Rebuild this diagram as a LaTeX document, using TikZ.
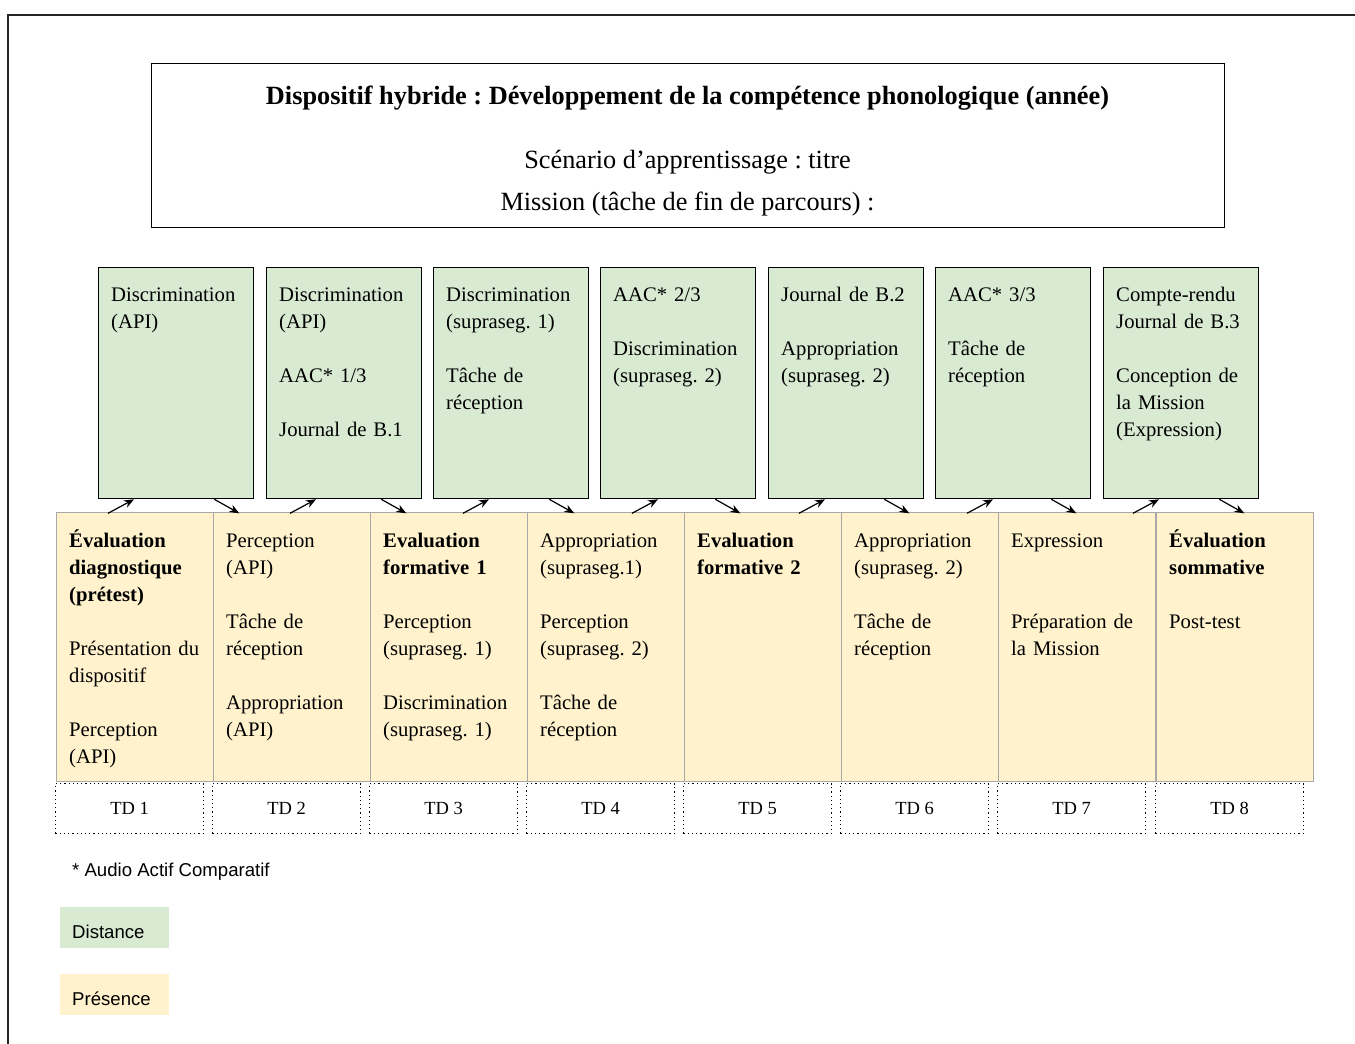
\documentclass[tikz,border=0pt]{standalone}
\usepackage{fontspec}
\setmainfont{Liberation Serif}
\newfontfamily\legendfont{Liberation Sans}
\usetikzlibrary{arrows.meta,calc}
\definecolor{distgreen}{HTML}{D9EAD3}
\definecolor{presyellow}{HTML}{FFF2CC}
\definecolor{cellgray}{HTML}{A8A8A8}
\newcommand\mygstrut{\rule{0pt}{34.5pt}}
\newcommand\myystrut{\rule{0pt}{35.5pt}}
\frenchspacing
\begin{document}
\begin{tikzpicture}[x=1pt,y=-1pt,
  gbox/.style={draw=black, line width=1.3pt, fill=distgreen, minimum width=155pt, minimum height=231pt, inner sep=0pt, anchor=north west},
  ybox/.style={draw=cellgray, line width=1.2pt, fill=presyellow, minimum width=157pt, minimum height=269pt, inner sep=0pt, anchor=north west},
  tdbox/.style={draw=black, line width=1.2pt, dash pattern=on 1.2pt off 3pt, minimum width=148pt, minimum height=50pt, inner sep=0pt, anchor=north west, font=\fontsize{18.5pt}{22pt}\selectfont},
  btext/.style={anchor=north west, inner sep=0pt, text width=150pt, align=left, font=\fontsize{20.7pt}{27pt}\selectfont},
  ttext/.style={anchor=base, inner sep=0pt, font=\fontsize{26.3pt}{30pt}\selectfont},
  ltext/.style={anchor=base west, inner sep=0pt, font=\legendfont\fontsize{18.6pt}{22pt}\selectfont},
  legbox/.style={minimum width=109pt, minimum height=41pt, inner sep=0pt, anchor=north west},
  arr/.style={line width=1.2pt, -{Stealth[length=10pt,width=8pt]}},
]
\useasboundingbox (0,0) rectangle (1355,1044);
% outer frame
\draw[line width=1.6pt, black!85] (1360,15) -- (8,15) -- (8,1050);

% title box
\node[draw=black, line width=1.3pt, minimum width=1073pt, minimum height=164pt, inner sep=0pt, anchor=north west] (title) at (151,63) {};
\node[ttext, font=\fontsize{26.3pt}{30pt}\selectfont\bfseries] (t1) at (687.5,104) {Dispositif hybride : Développement de la compétence phonologique (année)};
\node[ttext] (t2) at (687.5,168) {Scénario d’apprentissage : titre};
\node[ttext] (t3) at (687.5,210) {Mission (tâche de fin de parcours) :};

% presence row
\node[ybox] (y1) at (56,512) {};
\node[ybox] (y2) at (213,512) {};
\node[ybox] (y3) at (370,512) {};
\node[ybox] (y4) at (527,512) {};
\node[ybox] (y5) at (684,512) {};
\node[ybox] (y6) at (841,512) {};
\node[ybox] (y7) at (998,512) {};
\node[ybox] (y8) at (1156,512) {};

\node[btext] (y1t) at ($(y1.north west)+(13,0)$) {\myystrut\textbf{Évaluation}\\\textbf{diagnostique}\\\textbf{(prétest)}\\[27pt]Présentation du\\dispositif\\[27pt]Perception\\(API)};
\node[btext] (y2t) at ($(y2.north west)+(13,0)$) {\myystrut Perception\\(API)\\[27pt]Tâche de\\réception\\[27pt]Appropriation\\(API)};
\node[btext] (y3t) at ($(y3.north west)+(13,0)$) {\myystrut\textbf{Evaluation}\\\textbf{formative 1}\\[27pt]Perception\\(supraseg. 1)\\[27pt]Discrimination\\(supraseg. 1)};
\node[btext] (y4t) at ($(y4.north west)+(13,0)$) {\myystrut Appropriation\\(supraseg.1)\\[27pt]Perception\\(supraseg. 2)\\[27pt]Tâche de\\réception};
\node[btext] (y5t) at ($(y5.north west)+(13,0)$) {\myystrut\textbf{Evaluation}\\\textbf{formative 2}};
\node[btext] (y6t) at ($(y6.north west)+(13,0)$) {\myystrut Appropriation\\(supraseg. 2)\\[27pt]Tâche de\\réception};
\node[btext] (y7t) at ($(y7.north west)+(13,0)$) {\myystrut Expression\\[54pt]Préparation de\\la Mission};
\node[btext] (y8t) at ($(y8.north west)+(13,0)$) {\myystrut\textbf{Évaluation}\\\textbf{sommative}\\[27pt]Post-test};

% TD row
\node[tdbox] (td1) at (55,783) {TD 1};
\node[tdbox] (td2) at (212,783) {TD 2};
\node[tdbox] (td3) at (369,783) {TD 3};
\node[tdbox] (td4) at (526,783) {TD 4};
\node[tdbox] (td5) at (683,783) {TD 5};
\node[tdbox] (td6) at (840,783) {TD 6};
\node[tdbox] (td7) at (997,783) {TD 7};
\node[tdbox] (td8) at (1155,783) {TD 8};

% distance boxes
\node[gbox] (g1) at (98,267) {};
\node[gbox] (g2) at (266,267) {};
\node[gbox] (g3) at (433,267) {};
\node[gbox] (g4) at (600,267) {};
\node[gbox] (g5) at (768,267) {};
\node[gbox] (g6) at (935,267) {};
\node[gbox] (g7) at (1103,267) {};

\node[btext] (g1t) at ($(g1.north west)+(13,0)$) {\mygstrut Discrimination\\(API)};
\node[btext] (g2t) at ($(g2.north west)+(13,0)$) {\mygstrut Discrimination\\(API)\\[27pt]AAC* 1/3\\[27pt]Journal de B.1};
\node[btext] (g3t) at ($(g3.north west)+(13,0)$) {\mygstrut Discrimination\\(supraseg. 1)\\[27pt]Tâche de\\réception};
\node[btext] (g4t) at ($(g4.north west)+(13,0)$) {\mygstrut AAC* 2/3\\[27pt]Discrimination\\(supraseg. 2)};
\node[btext] (g5t) at ($(g5.north west)+(13,0)$) {\mygstrut Journal de B.2\\[27pt]Appropriation\\(supraseg. 2)};
\node[btext] (g6t) at ($(g6.north west)+(13,0)$) {\mygstrut AAC* 3/3\\[27pt]Tâche de\\réception};
\node[btext] (g7t) at ($(g7.north west)+(13,0)$) {\mygstrut Compte-rendu\\Journal de B.3\\[27pt]Conception de\\la Mission\\(Expression)};

% arrows: presence -> distance -> presence
\draw[arr] ($(g1.south west)+(10,14)$) -- ($(g1.south west)+(36,0)$);
\draw[arr] ($(g1.south east)+(-40,0)$) -- ($(g1.south east)+(-15,14)$);
\draw[arr] ($(g2.south west)+(24,14)$) -- ($(g2.south west)+(50,0)$);
\draw[arr] ($(g2.south east)+(-41,0)$) -- ($(g2.south east)+(-16,14)$);
\draw[arr] ($(g3.south west)+(30,14)$) -- ($(g3.south west)+(56,0)$);
\draw[arr] ($(g3.south east)+(-40,0)$) -- ($(g3.south east)+(-15,14)$);
\draw[arr] ($(g4.south west)+(32,14)$) -- ($(g4.south west)+(58,0)$);
\draw[arr] ($(g4.south east)+(-41,0)$) -- ($(g4.south east)+(-16,14)$);
\draw[arr] ($(g5.south west)+(31,14)$) -- ($(g5.south west)+(57,0)$);
\draw[arr] ($(g5.south east)+(-40,0)$) -- ($(g5.south east)+(-15,14)$);
\draw[arr] ($(g6.south west)+(32,14)$) -- ($(g6.south west)+(58,0)$);
\draw[arr] ($(g6.south east)+(-40,0)$) -- ($(g6.south east)+(-15,14)$);
\draw[arr] ($(g7.south west)+(30,14)$) -- ($(g7.south west)+(56,0)$);
\draw[arr] ($(g7.south east)+(-40,0)$) -- ($(g7.south east)+(-15,14)$);

% legend
\node[ltext] (note) at (72,876.5) {* Audio Actif Comparatif};
\node[legbox, fill=distgreen] (legd) at (60,907) {};
\node[ltext] (legdt) at (72,938.5) {Distance};
\node[legbox, fill=presyellow] (legp) at (60,974) {};
\node[ltext] (legpt) at (72,1005.5) {Présence};
\end{tikzpicture}
\end{document}
